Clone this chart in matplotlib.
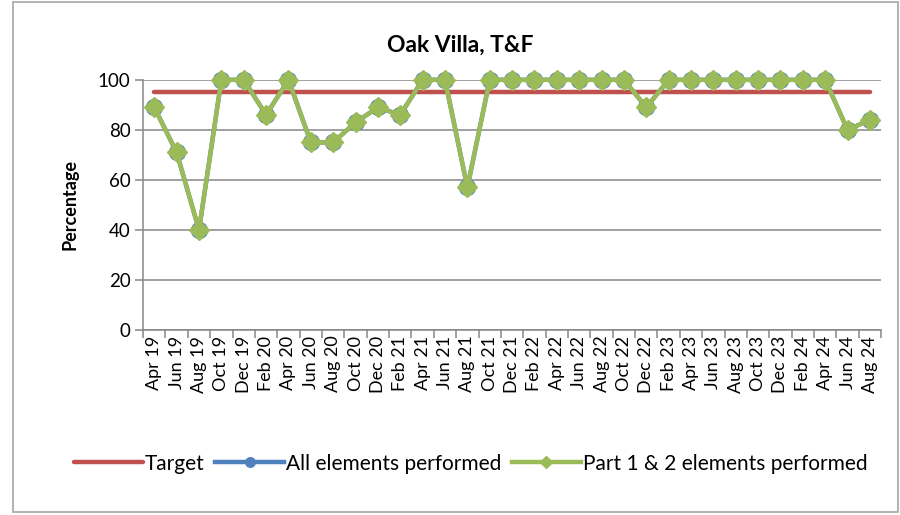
import matplotlib
matplotlib.use("Agg")
import matplotlib.pyplot as plt
from matplotlib.patches import Rectangle
from matplotlib.ticker import FixedLocator

plt.rcParams['font.family'] = ['Lato', 'DejaVu Sans']

months = ["Apr 19", "Jun 19", "Aug 19", "Oct 19", "Dec 19", "Feb 20", "Apr 20", "Jun 20",
          "Aug 20", "Oct 20", "Dec 20", "Feb 21", "Apr 21", "Jun 21", "Aug 21", "Oct 21",
          "Dec 21", "Feb 22", "Apr 22", "Jun 22", "Aug 22", "Oct 22", "Dec 22", "Feb 23",
          "Apr 23", "Jun 23", "Aug 23", "Oct 23", "Dec 23", "Feb 24", "Apr 24", "Jun 24", "Aug 24"]
target = [95] * len(months)
all_elements = [89, 71, 40, 100, 100, 86, 100, 75, 75, 83, 89, 86, 100, 100, 57, 100,
                100, 100, 100, 100, 100, 100, 89, 100, 100, 100, 100, 100, 100, 100, 100, 80, 84]
part12 = [89, 71, 40, 100, 100, 86, 100, 75, 75, 83, 89, 86, 100, 100, 57, 100,
          100, 100, 100, 100, 100, 100, 89, 100, 100, 100, 100, 100, 100, 100, 100, 80, 84]

fig = plt.figure(figsize=(9, 5.15), dpi=100)
ax = fig.add_axes([0.159, 0.359, 0.820, 0.486])

x = list(range(len(months)))
red, blue, green = "#C0504D", "#4F81BD", "#9BBB59"
ax.plot(x, target, color=red, lw=3.2, solid_capstyle='round', label="Target", zorder=3)
ax.plot(x, all_elements, color=blue, lw=3.2, marker='o', markersize=11.5,
        label="All elements performed", zorder=4, clip_on=False)
ax.plot(x, part12, color=green, lw=3.2, marker='D', markersize=10,
        label="Part 1 & 2 elements performed", zorder=5, clip_on=False)

ax.set_xlim(-0.5, len(months) - 0.5)
ax.set_ylim(0, 100)
ax.set_yticks([0, 20, 40, 60, 80, 100])
ax.yaxis.grid(True, color="#868686", lw=1.1)
ax.set_axisbelow(True)
ax.set_xticks(x)
ax.set_xticklabels(months, rotation=90, fontsize=13)
ax.tick_params(axis='x', which='major', length=0, pad=4)
ax.xaxis.set_minor_locator(FixedLocator([i - 0.5 for i in range(len(months) + 1)]))
ax.tick_params(axis='x', which='minor', length=6, color="#868686", width=1.1)
ax.tick_params(axis='y', length=6, color="#868686", width=1.1, labelsize=13.5, pad=3)
for s in ['top', 'right']:
    ax.spines[s].set_visible(False)
for s in ['left', 'bottom']:
    ax.spines[s].set_color("#868686")
    ax.spines[s].set_linewidth(1.1)

ax.set_ylabel("Percentage", fontsize=13, fontweight='bold', labelpad=14)
fig.text(0.511, 0.912, "Oak Villa, T&F", ha='center', va='center', fontsize=16.5, fontweight='bold')

fig.legend(loc='center', bbox_to_anchor=(0.523, 0.10), ncol=3, frameon=False, fontsize=15,
           handlelength=3.3, handletextpad=0.1, columnspacing=0.5, markerscale=0.6)

fig.patches.append(Rectangle((0.014, 0.006), 0.984, 0.99, transform=fig.transFigure,
                             fill=False, edgecolor="#A6A6A6", lw=1.2))

fig.savefig("out.png", dpi=100)
